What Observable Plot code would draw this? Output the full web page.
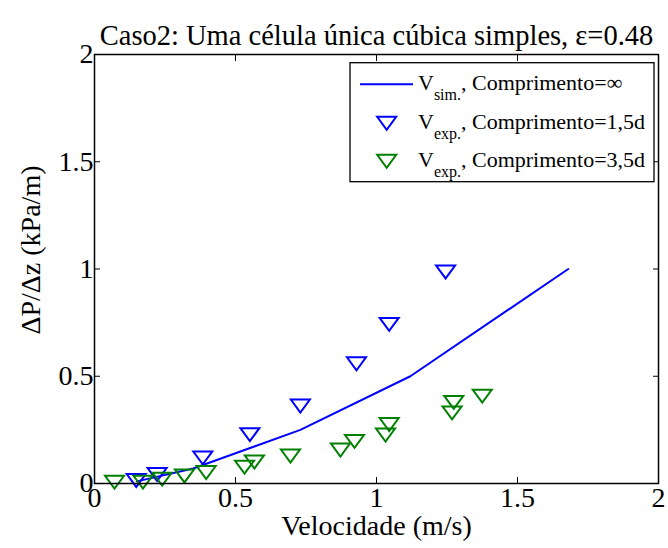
<!DOCTYPE html>
<html>
<head>
<meta charset="utf-8">
<script src="https://cdn.jsdelivr.net/npm/d3@7"></script>
<script src="https://cdn.jsdelivr.net/npm/@observablehq/plot@0.6"></script>
<style>
  html, body { margin: 0; padding: 0; background: #fff; }
  #chart { position: relative; width: 668px; height: 548px; }
  #chart svg, #chart svg text { font-family: "Liberation Serif" !important; }
</style>
</head>
<body>
<div id="chart"></div>
<script>
// ---- Data ----
const title = "Caso2: Uma célula única cúbica simples, ε=0.48";
const xLabel = "Velocidade (m/s)";
const yLabel = "ΔP/Δz (kPa/m)";

const xTicks = [0, 0.5, 1, 1.5, 2];
const yTicks = [0, 0.5, 1, 1.5, 2];
const xTickLabels = ["0", "0.5", "1", "1.5", "2"];
const yTickLabels = ["0", "0.5", "1", "1.5", "2"];

const simX = [0.15, 0.35, 0.73, 1.12, 1.68];
const simY = [0.01, 0.07, 0.25, 0.50, 1.00];

const exp15X = [0.148, 0.222, 0.384, 0.551, 0.730, 0.929, 1.045, 1.245];
const exp15Y = [0.014, 0.042, 0.119, 0.228, 0.361, 0.558, 0.742, 0.986];

const exp35X = [0.071, 0.172, 0.240, 0.319, 0.396, 0.532, 0.567, 0.695, 0.872, 0.922, 1.032, 1.045, 1.268, 1.274, 1.375];
const exp35Y = [0.006, 0.006, 0.020, 0.035, 0.051, 0.076, 0.100, 0.128, 0.156, 0.196, 0.226, 0.275, 0.329, 0.378, 0.407];

const legendItems = [
  {type: "line", color: "#0000ff", sub: "sim.", text: ", Comprimento=∞"},
  {type: "marker", color: "#0000ff", sub: "exp.", text: ", Comprimento=1,5d"},
  {type: "marker", color: "#008000", sub: "exp.", text: ", Comprimento=3,5d"}
];

// ---- Build tables ----
const sim = simX.map((x, i) => ({x, y: simY[i]}));
const e15 = exp15X.map((x, i) => ({x, y: exp15Y[i]}));
const e35 = exp35X.map((x, i) => ({x, y: exp35Y[i]}));

// MATLAB-like downward triangle marker (wider than tall)
const triDown = {
  draw(ctx, size) {
    const r = Math.sqrt(size / Math.PI);
    const h = 0.68 * r;
    ctx.moveTo(-r, -h);
    ctx.lineTo(r, -h);
    ctx.lineTo(0, h);
    ctx.closePath();
  }
};

const FONT = "Liberation Serif";
const fmtX = d => xTickLabels[xTicks.indexOf(d)];
const fmtY = d => yTickLabels[yTicks.indexOf(d)];

const plot = Plot.plot({
  width: 668,
  height: 548,
  marginLeft: 94,
  marginRight: 10,
  marginTop: 54,
  marginBottom: 65,
  style: {fontFamily: FONT, fontSize: "28px", background: "#fff", color: "#000"},
  x: {domain: [0, 2]},
  y: {domain: [0, 2]},
  marks: [
    Plot.line(sim, {x: "x", y: "y", stroke: "#0000ff", strokeWidth: 2}),
    Plot.dot(e15, {x: "x", y: "y", symbol: triDown, r: 9.5, stroke: "#0000ff", strokeWidth: 2, fill: "none"}),
    Plot.dot(e35, {x: "x", y: "y", symbol: triDown, r: 9.5, stroke: "#008000", strokeWidth: 2, fill: "none"}),
    Plot.frame({stroke: "#000", strokeWidth: 1.5}),
    Plot.axisX(xTicks, {anchor: "bottom", tickSize: -6, tickPadding: 10, tickFormat: fmtX, label: null, fontSize: 28, fontFamily: FONT}),
    Plot.axisX(xTicks, {anchor: "top", tickSize: -6, tickFormat: () => "", label: null}),
    Plot.axisY(yTicks, {anchor: "left", tickSize: -6, tickPadding: 7, tickFormat: fmtY, label: null, fontSize: 28, fontFamily: FONT}),
    Plot.axisY(yTicks, {anchor: "right", tickSize: -6, tickFormat: () => "", label: null}),
    Plot.text([title], {frameAnchor: "top", textAnchor: "middle", dy: -30, fontSize: 28.5, fontFamily: FONT, text: d => d}),
    Plot.text([xLabel], {frameAnchor: "bottom", textAnchor: "middle", dy: 51, fontSize: 28, fontFamily: FONT, text: d => d})
  ]
});

document.getElementById("chart").appendChild(plot);

const svg = d3.select(plot);

// ---- Y-axis title ----
svg.append("text")
  .attr("transform", "translate(40,250) rotate(-90)")
  .attr("text-anchor", "middle")
  .attr("font-family", FONT).attr("font-size", 28).attr("fill", "#000")
  .text(yLabel);

// ---- Legend (drawn into the same SVG) ----
const lg = svg.append("g").attr("class", "legend").attr("text-anchor", "start");
const box = {x: 350, y: 62.7, w: 304, h: 119};
lg.append("rect")
  .attr("x", box.x).attr("y", box.y).attr("width", box.w).attr("height", box.h)
  .attr("fill", "#fff").attr("stroke", "#000").attr("stroke-width", 1.3);
const rowY = [84.3, 123.3, 161.3];
legendItems.forEach((it, i) => {
  const cy = rowY[i];
  if (it.type === "line") {
    lg.append("line").attr("x1", 360).attr("x2", 413).attr("y1", cy).attr("y2", cy)
      .attr("stroke", it.color).attr("stroke-width", 2);
  } else {
    const p = d3.path();
    triDown.draw(p, Math.PI * 9.5 * 9.5);
    lg.append("path").attr("d", p.toString()).attr("transform", `translate(386.7,${cy})`)
      .attr("fill", "none").attr("stroke", it.color).attr("stroke-width", 2);
  }
  const t = lg.append("text").attr("x", 418).attr("y", cy + 5.5).attr("text-anchor", "start")
    .attr("font-family", FONT).attr("font-size", 22).attr("fill", "#000");
  t.append("tspan").text("V");
  t.append("tspan").attr("dy", 10).attr("font-size", 16).text(it.sub);
  t.append("tspan").attr("dy", -10).attr("font-size", 22).text(it.text);
});
</script>
</body>
</html>
